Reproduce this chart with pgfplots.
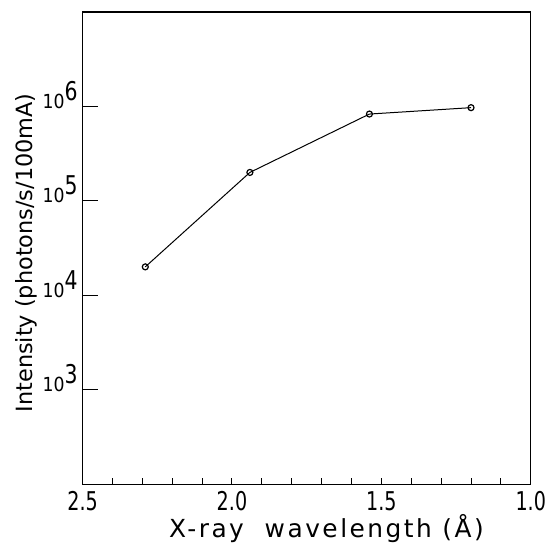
\documentclass[border=0pt]{standalone}
\usepackage{fontspec}
\setmainfont{DejaVu Sans}
\usepackage{graphicx}
\usepackage{pgfplots}
\pgfplotsset{compat=1.18}

% narrow digits, like the old stencil lettering
\newcommand\nar[1]{\scalebox{0.74}[1]{#1}}
\newcommand\ylab[1]{{\fontsize{19.5}{20}\selectfont\scalebox{0.89}[1]{10}}%
  \raisebox{8bp}{\fontsize{26}{26}\selectfont\scalebox{0.79}[1]{#1}}}

\pgfplotsset{frameax/.style={
  width=449bp, height=473bp, scale only axis,
  xmin=1, xmax=2.5, ymin=1e2, ymax=1e7,
  x dir=reverse, yminorticks=false,
  axis line style={line width=1.2bp},
  tick align=inside,
  tick style={black, line width=1bp},
  clip=false}}

\pgfplotstableread{
lambda I
2.29 2.0e4
1.94 2.0e5
1.54 8.3e5
1.20 9.7e5
}\intensity

\begin{document}
\begin{tikzpicture}
\begin{semilogyaxis}[frameax,
  xtick=\empty,
  ytick={1e3,1e4,1e5,1e6},
  yticklabels={\ylab{3},\ylab{4},\ylab{5},\ylab{6}},
  ytick pos=left,
  major tick length=15bp,
  yticklabel style={anchor=base east, inner sep=0pt, xshift=-4.7bp, yshift=-2bp},
  ylabel={Intensity (photons/s/100mA)},
  ylabel style={font=\fontsize{22.5}{27}\selectfont,
    at={(axis description cs:-0.1,0.49)}, anchor=south, inner sep=0pt},
]
\addplot[black, line width=1bp, mark=o, mark size=3bp,
  mark options={solid, fill=white, line width=1.2bp}] table[x=lambda, y=I] {\intensity};
\path (axis cs:2.5,100) ++(-82.7bp,-60bp) rectangle ++(546bp,545bp);
\end{semilogyaxis}

\begin{semilogyaxis}[frameax,
  ytick=\empty,
  xtick={1,1.5,2,2.5},
  xticklabels={\nar{1.0},\nar{1.5},\nar{2.0},\nar{2.5}},
  minor x tick num=4,
  xtick pos=left,
  major tick length=6bp, minor tick length=6bp,
  xticklabel style={font=\fontsize{26}{30}\selectfont,
    anchor=north, inner sep=0pt, yshift=-7bp},
  xlabel={\addfontfeature{LetterSpace=10}X-ray\ \ wavelength (Å)},
  xlabel style={font=\fontsize{25}{30}\selectfont,
    at={(axis description cs:0.544,-0.112)}, anchor=base, inner sep=0pt},
]
\end{semilogyaxis}
\end{tikzpicture}
\end{document}
